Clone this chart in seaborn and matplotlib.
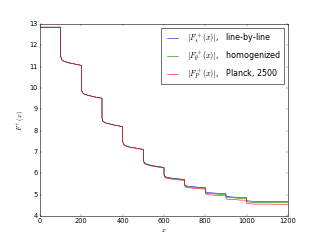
import matplotlib
matplotlib.use("Agg")
import matplotlib.pyplot as plt
import seaborn as sns

# x positions (duplicates at each jump)
x = [0, 100,
     100, 105, 115, 135, 165, 200,
     200, 205, 215, 235, 265, 300,
     300, 305, 315, 335, 365, 400,
     400, 405, 415, 435, 465, 500,
     500, 505, 515, 535, 565, 600,
     600, 605, 615, 635, 665, 700,
     700, 705, 715, 735, 765, 800,
     800, 805, 815, 835, 865, 900,
     900, 905, 915, 935, 965, 1000,
     1000, 1005, 1015, 1035, 1065, 1200]

line_by_line = [12.85, 12.85,
                11.50, 11.32, 11.26, 11.19, 11.13, 11.06,
                9.95, 9.78, 9.71, 9.65, 9.58, 9.52,
                8.60, 8.44, 8.37, 8.32, 8.25, 8.19,
                7.50, 7.35, 7.29, 7.23, 7.18, 7.12,
                6.63, 6.49, 6.44, 6.38, 6.33, 6.28,
                5.95, 5.85, 5.82, 5.78, 5.75, 5.71,
                5.48, 5.42, 5.40, 5.38, 5.35, 5.33,
                5.16, 5.11, 5.09, 5.08, 5.06, 5.04,
                4.95, 4.91, 4.90, 4.89, 4.87, 4.86,
                4.73, 4.71, 4.70, 4.69, 4.69, 4.68]

homogenized = [12.85, 12.85,
               11.50, 11.32, 11.26, 11.19, 11.13, 11.06,
               9.95, 9.78, 9.71, 9.65, 9.58, 9.52,
               8.60, 8.44, 8.37, 8.32, 8.25, 8.19,
               7.50, 7.35, 7.29, 7.23, 7.18, 7.12,
               6.62, 6.48, 6.43, 6.37, 6.32, 6.27,
               5.93, 5.83, 5.80, 5.76, 5.73, 5.69,
               5.45, 5.39, 5.37, 5.35, 5.32, 5.30,
               5.12, 5.07, 5.05, 5.04, 5.02, 5.00,
               4.91, 4.87, 4.86, 4.85, 4.83, 4.82,
               4.68, 4.66, 4.65, 4.64, 4.64, 4.63]

planck = [12.85, 12.85,
          11.50, 11.32, 11.26, 11.19, 11.13, 11.06,
          9.95, 9.78, 9.71, 9.65, 9.58, 9.52,
          8.60, 8.44, 8.37, 8.32, 8.25, 8.19,
          7.49, 7.34, 7.28, 7.22, 7.17, 7.11,
          6.60, 6.46, 6.41, 6.35, 6.30, 6.25,
          5.90, 5.80, 5.77, 5.73, 5.70, 5.66,
          5.41, 5.35, 5.33, 5.31, 5.28, 5.26,
          5.06, 5.01, 4.99, 4.98, 4.96, 4.94,
          4.83, 4.79, 4.78, 4.77, 4.75, 4.74,
          4.60, 4.58, 4.57, 4.56, 4.56, 4.55]

plt.style.use('classic')
fig, ax = plt.subplots(figsize=(8, 6), dpi=40)

sns.lineplot(x=x, y=line_by_line, color='b', sort=False, estimator=None,
             label=r'$|F_s^+(x)|$,   line-by-line', ax=ax)
sns.lineplot(x=x, y=homogenized, color='g', sort=False, estimator=None,
             label=r'$|F_\theta^+(x)|$,   homogenized', ax=ax)
sns.lineplot(x=x, y=planck, color='r', sort=False, estimator=None,
             label=r'$|F_P^+(x)|$,   Planck, 2500', ax=ax)

ax.set_xlim(0, 1200)
ax.set_ylim(4, 13)
ax.set_xlabel(r'$x$')
ax.set_ylabel(r'$F^+(x)$')
ax.legend(loc='upper right')

fig.savefig('out.png', dpi=40)
